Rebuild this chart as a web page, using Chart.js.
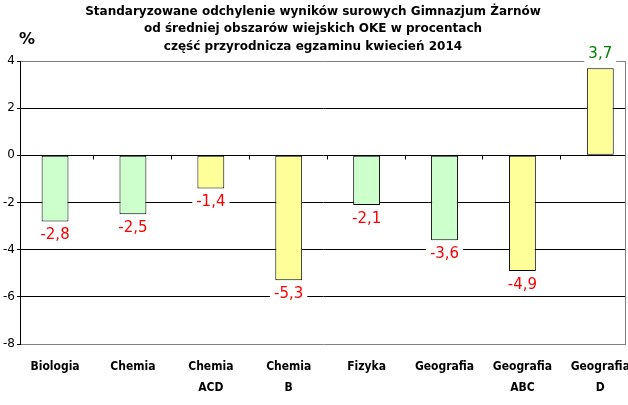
<!DOCTYPE html>
<html>
<head>
<meta charset="utf-8">
<script src="https://cdn.jsdelivr.net/npm/chart.js@4/dist/chart.umd.min.js"></script>
<style>
  html, body { margin: 0; padding: 0; background: #ffffff; }
  #wrap { width: 628px; height: 405px; position: relative; }
</style>
</head>
<body>
<div id="wrap"><canvas id="wykres"></canvas></div>
<script>
// Dane
const PRZEDMIOTY = [
    'Biologia', 'Chemia', ['Chemia', 'ACD'], ['Chemia', 'B'],
    'Fizyka', 'Geografia', ['Geografia', 'ABC'], ['Geografia', 'D']
];
const ODCHYLENIA = [-2.8, -2.5, -1.4, -5.3, -2.1, -3.6, -4.9, 3.7];
const KOLORY = ['#ccffcc', '#ccffcc', '#ffff99', '#ffff99',
                '#ccffcc', '#ccffcc', '#ffff99', '#ffff99'];
const Y_MIN = -8, Y_MAX = 4, Y_KROK = 2;
const TYTUL = [
    'Standaryzowane odchylenie wyników surowych Gimnazjum Żarnów',
    'od średniej obszarów wiejskich OKE w procentach',
    'część przyrodnicza egzaminu kwiecień 2014'
];

// oś kategorii w oryginale nie jest symetryczna (ucięty prawy brzeg)
const X_START = -0.45, X_ZAKRES = 7.78;

// ── Ramka, znaczniki kategorii, etykiety wartości ──
const dodatki = {
    id: 'dodatki',
    afterDatasetsDraw(chart) {
        const { ctx, chartArea: a, scales: { x, y } } = chart;
        ctx.save();
        // prawa krawędź ramki
        ctx.strokeStyle = '#808080';
        ctx.lineWidth = 1;
        ctx.beginPath();
        ctx.moveTo(a.right - 0.5, a.top);
        ctx.lineTo(a.right - 0.5, a.bottom);
        ctx.stroke();
        // znaczniki na osi zero
        const y0 = Math.round(y.getPixelForValue(0)) + 0.5;
        ctx.strokeStyle = '#000000';
        ctx.beginPath();
        for (let i = 0; i < PRZEDMIOTY.length - 1; i++) {
            const px = Math.round(x.getPixelForValue(i + 0.5)) - 0.5;
            ctx.moveTo(px, y0);
            ctx.lineTo(px, y0 + 4);
        }
        ctx.stroke();
        // etykiety wartości
        const meta = chart.getDatasetMeta(0);
        ctx.font = '15px "DejaVu Sans", sans-serif';
        ctx.textAlign = 'center';
        ctx.textBaseline = 'middle';
        meta.data.forEach((bar, i) => {
            const v = ODCHYLENIA[i];
            const txt = v.toFixed(1).replace('.', ',');
            const ty = v < 0 ? bar.y + 14 : bar.y - 14;
            const w = ctx.measureText(txt).width + 8;
            ctx.fillStyle = '#ffffff';
            ctx.fillRect(bar.x - w / 2, ty - 9, w, 18);
            ctx.fillStyle = v < 0 ? '#ff0000' : '#008000';
            ctx.fillText(txt, bar.x, ty);
        });
        // znak procentu
        ctx.font = 'bold 16px "DejaVu Sans", sans-serif';
        ctx.fillStyle = '#000000';
        ctx.textAlign = 'center';
        ctx.fillText('%', 27, 40);
        ctx.restore();
    }
};

new Chart(document.getElementById('wykres'), {
    type: 'bar',
    data: {
        labels: PRZEDMIOTY,
        datasets: [{
            data: ODCHYLENIA,
            backgroundColor: KOLORY,
            borderColor: '#000000',
            borderWidth: 1,
            borderSkipped: false,
            categoryPercentage: 1,
            barPercentage: 0.345
        }]
    },
    options: {
        responsive: true,
        maintainAspectRatio: false,
        animation: false,
        layout: { padding: { left: 0, right: 2, top: 0, bottom: 0 } },
        plugins: {
            legend: { display: false },
            tooltip: { enabled: false },
            title: {
                display: true,
                text: TYTUL,
                color: '#000000',
                font: { family: '"DejaVu Sans", sans-serif', size: 12, weight: 'bold', lineHeight: 1.46 },
                padding: { top: 3, bottom: 5.5 }
            }
        },
        scales: {
            x: {
                grid: { display: false },
                border: { display: false },
                ticks: {
                    color: '#000000',
                    padding: 4,
                    maxRotation: 0,
                    autoSkip: false,
                    font: { family: '"DejaVu Sans Condensed", sans-serif', size: 12, weight: 'bold', lineHeight: 1.75 }
                },
                afterBuildTicks: s => { s._startValue = X_START; s._valueRange = X_ZAKRES; },
                afterFit: s => { s.height = 61; s.paddingLeft = 0; s.paddingRight = 0; }
            },
            y: {
                min: Y_MIN,
                max: Y_MAX,
                ticks: {
                    stepSize: Y_KROK,
                    color: '#000000',
                    padding: 2,
                    font: { family: '"DejaVu Sans", sans-serif', size: 12 }
                },
                grid: {
                    color: c => (c.tick.value === Y_MIN || c.tick.value === Y_MAX) ? '#808080' : '#000000',
                    tickColor: '#000000',
                    tickLength: 3
                },
                border: { color: '#000000' },
                afterFit: s => { s.width = 20; }
            }
        }
    },
    plugins: [dodatki]
});
</script>
</body>
</html>
